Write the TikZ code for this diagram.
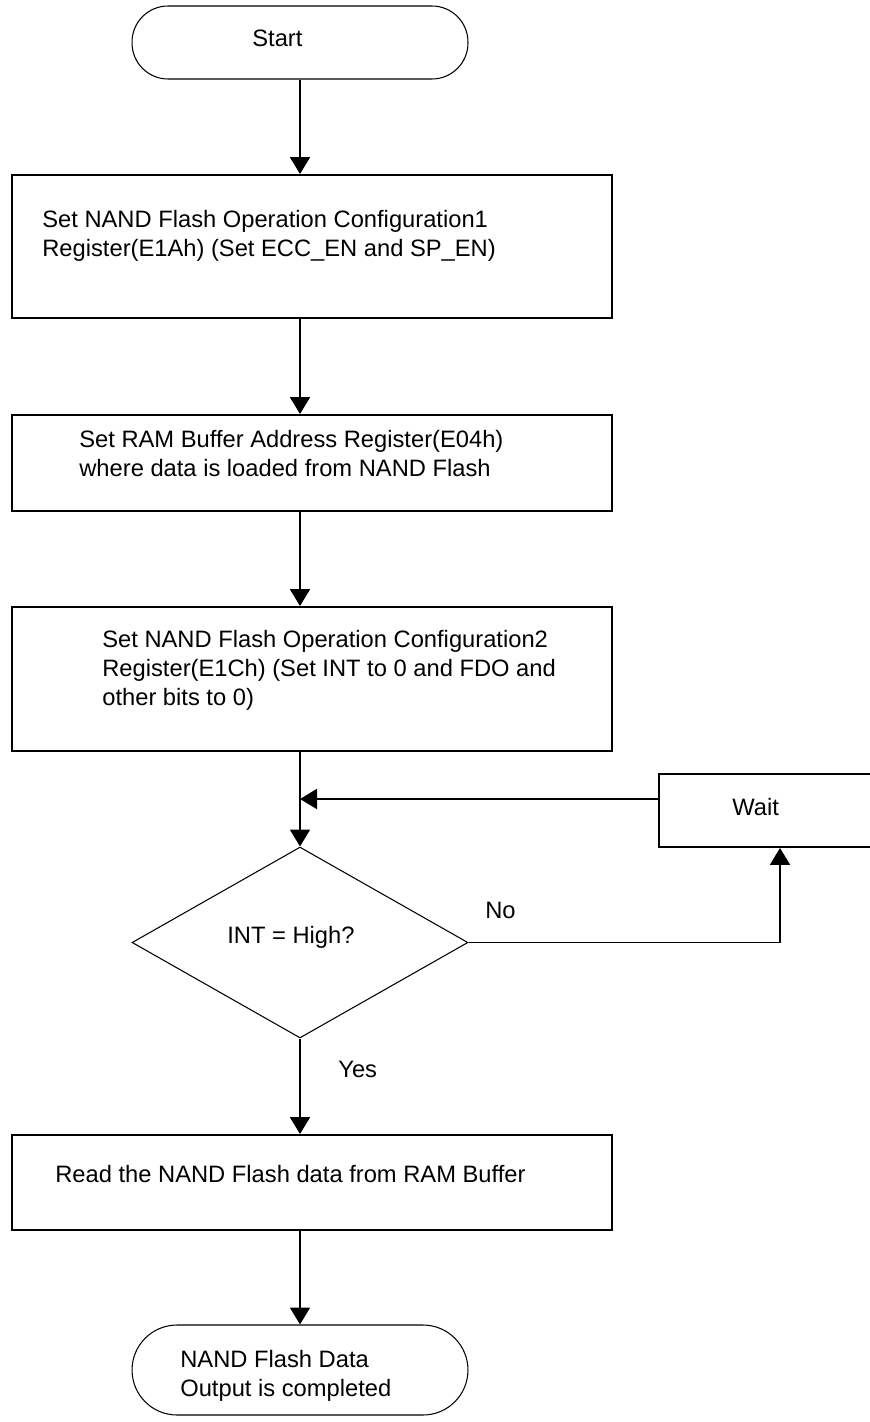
\documentclass[tikz,border=0pt]{standalone}
\usepackage{fontspec}
\setmainfont{Liberation Sans}
\usetikzlibrary{arrows.meta,positioning,shapes.geometric}

\begin{document}
\begin{tikzpicture}[x=0.02cm, y=-0.02cm,
  box/.style={draw, line width=1.1pt, minimum width=12cm, inner sep=0pt},
  term/.style={draw, line width=0.6pt, minimum width=6.72cm, inner sep=0pt},
  decide/.style={draw, diamond, line width=0.6pt, minimum width=6.72cm, minimum height=3.82cm, inner sep=0pt},
  txt/.style={font=\fontsize{13.5}{16.5}\selectfont, align=left, inner sep=0pt},
  arr/.style={line width=1.1pt, -{Triangle[length=0.34cm, width=0.4cm]}}
]
  \useasboundingbox (0,0) rectangle (869,1422);

  %% Shapes
  \node[term, rounded corners=0.72cm, minimum height=1.46cm] (start) at (300,42.5) {};
  \node[box, minimum height=2.86cm] (cfg1)    at (312,246.5) {};
  \node[box, minimum height=1.92cm] (ramBuf)  at (312,463) {};
  \node[box, minimum height=2.88cm] (cfg2)    at (312,679) {};
  \node[decide] (intHigh) at (300,942.5) {};
  \node[draw, line width=1.1pt, minimum width=4.84cm, minimum height=1.46cm, inner sep=0pt] (wait) at (780,810.5) {};
  \node[box, minimum height=1.9cm]  (readBuf) at (312,1182.5) {};
  \node[term, rounded corners=0.9cm, minimum height=1.8cm] (done) at (300,1370) {};

  %% Texts
  \node[txt, anchor=base west]  (startTxt)  at (252,47)  {Start};
  \node[txt, anchor=north west] (cfg1Txt)   at (42,210)  {Set NAND Flash Operation Configuration1\\Register(E1Ah) (Set ECC\_EN and SP\_EN)};
  \node[txt, anchor=north west] (ramBufTxt) at (79,430)  {Set RAM Buffer Address Register(E04h)\\where data is loaded from NAND Flash};
  \node[txt, anchor=north west] (cfg2Txt)   at (102,630) {Set NAND Flash Operation Configuration2\\Register(E1Ch) (Set INT to 0 and FDO and\\other bits to 0)};
  \node[txt, anchor=base west]  (intTxt)    at (227,943) {INT = High?};
  \node[txt, anchor=base west]  (waitTxt)   at (732,815) {Wait};
  \node[txt, anchor=base west]  (noTxt)     at (485,918) {No};
  \node[txt, anchor=base west]  (yesTxt)    at (338,1077) {Yes};
  \node[txt, anchor=north west] (readTxt)   at (55,1165) {Read the NAND Flash data from RAM Buffer};
  \node[txt, anchor=north west] (doneTxt)   at (180,1350) {NAND Flash Data\\Output is completed};

  %% Connectors
  \coordinate (merge) at (300,799);
  \draw[arr] (start.south) -- (start.south |- cfg1.north);
  \draw[arr] (start.south |- cfg1.south) -- (start.south |- ramBuf.north);
  \draw[arr] (start.south |- ramBuf.south) -- (start.south |- cfg2.north);
  \draw[arr] (intHigh.north |- cfg2.south) -- (intHigh.north);
  \draw[arr] (merge -| wait.west) -- (merge);
  \draw[arr] (intHigh.east) -| (wait.south);
  \draw[arr] (intHigh.south) -- (intHigh.south |- readBuf.north);
  \draw[arr] (done.north |- readBuf.south) -- (done.north);
\end{tikzpicture}
\end{document}
